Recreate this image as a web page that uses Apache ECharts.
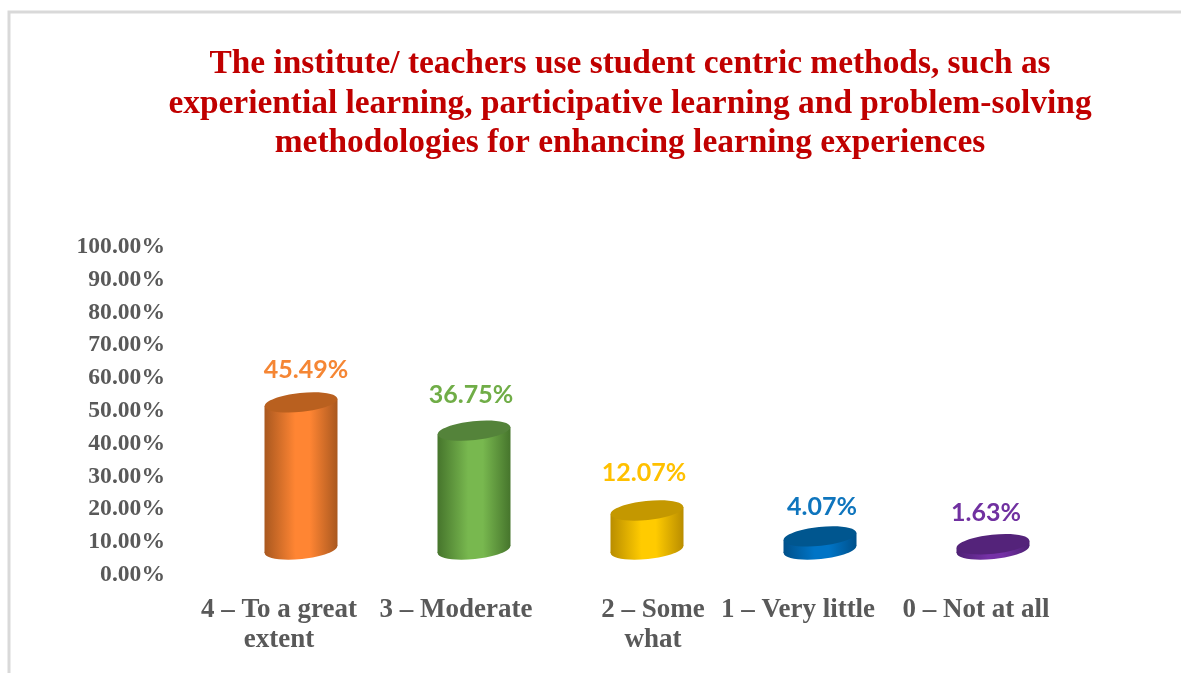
<!DOCTYPE html>
<html><head><meta charset="utf-8">
<style>html,body{margin:0;padding:0;background:#fff}#c{width:1181px;height:673px}</style>
<script src="https://cdn.jsdelivr.net/npm/echarts@6/dist/echarts.min.js"></script>
</head><body><div id="c"></div>
<script>
const titleText = 'The institute/ teachers use student centric methods, such as\nexperiential learning, participative learning and problem-solving\nmethodologies for enhancing learning experiences';
const categories = ['4 – To a great\nextent', '3 – Moderate', '2 – Some\nwhat', '1 – Very little', '0 – Not at all'];
const values = [45.49, 36.75, 12.07, 4.07, 1.63];
const labelColors = ['#F58634', '#70AD47', '#FFC000', '#0F75BD', '#7030A0'];
const bodyLight = ['#FF8533', '#78B84F', '#FFCB00', '#0074C6', '#7531A6'];
const bodyDark = ['#A9581F', '#46752C', '#B98D00', '#00508A', '#4E2174'];
const topColors = ['#B9601F', '#54833A', '#C49800', '#00568F', '#54237A'];
const catShift = [-22, -18, 6, -22, -17];
const valueShiftX = [5, -3, -3, 2, -7];
const valueShiftY = [-32, -36, -38, -29, -31];

const RX = 36.5, RY = 9.5, TILT = 0.105;
const EDGE = (RX * RX - RY * RY) * Math.sin(TILT) * Math.cos(TILT) / RX;

function shiftPad(dx) { return dx < 0 ? [0, -2 * dx, 0, 0] : [0, 0, 0, 2 * dx]; }
function ellipse(cx, cy, fill) {
  return { type: 'ellipse', x: cx, y: cy, rotation: TILT, shape: { cx: 0, cy: 0, rx: RX, ry: RY }, style: { fill: fill } };
}
function renderCylinder(params, api) {
  const i = api.value(0);
  const top = api.coord([i, api.value(1)]);
  const base = api.coord([i, 0]);
  const fill = { type: 'linear', x: 0, y: 0, x2: 1, y2: 0, colorStops: [
    { offset: 0, color: bodyDark[i] }, { offset: 0.42, color: bodyLight[i] },
    { offset: 0.62, color: bodyLight[i] }, { offset: 1, color: bodyDark[i] }] };
  return { type: 'group', children: [
    ellipse(base[0], base[1], fill),
    { type: 'polygon', shape: { points: [
      [top[0] - RX, top[1] + EDGE], [top[0] + RX, top[1] - EDGE],
      [base[0] + RX, base[1] - EDGE], [base[0] - RX, base[1] + EDGE]] }, style: { fill: fill } },
    ellipse(top[0], top[1], topColors[i]),
    { type: 'text', style: {
        x: top[0] + valueShiftX[i], y: top[1] + valueShiftY[i], text: values[i].toFixed(2) + '%',
        fill: labelColors[i], font: 'bold 25px Lato', align: 'center', verticalAlign: 'middle' } }
  ] };
}

const chart = echarts.init(document.getElementById('c'), null, { renderer: 'canvas' });
chart.setOption({
  animation: false,
  backgroundColor: '#fff',
  title: { text: titleText, left: 625, top: 40, textAlign: 'center',
    textStyle: { fontFamily: 'Liberation Serif', fontWeight: 'bold', fontSize: 33.4, lineHeight: 39.5, color: '#C00000' } },
  grid: [
    { left: 214.5, width: 865, top: 247, height: 328 },
    { left: 214.5, width: 865, top: 226, height: 323.5 }
  ],
  xAxis: [
    { type: 'category', gridIndex: 0, axisLine: { show: false }, axisTick: { show: false },
      data: categories.map((c, i) => ({ value: c, textStyle: { padding: shiftPad(catShift[i]) } })),
      axisLabel: { interval: 0, margin: 20, fontFamily: 'Liberation Serif', fontWeight: 'bold', fontSize: 27, lineHeight: 30, color: '#595959' } },
    { type: 'category', gridIndex: 1, data: categories, show: false }
  ],
  yAxis: [
    { type: 'value', gridIndex: 0, min: 0, max: 100, interval: 10, splitLine: { show: false }, axisLine: { show: false }, axisTick: { show: false },
      axisLabel: { margin: 49.5, formatter: v => v.toFixed(2) + '%', fontFamily: 'Liberation Serif', fontWeight: 'bold', fontSize: 23.6, color: '#595959' } },
    { type: 'value', gridIndex: 1, min: 0, max: 100, show: false }
  ],
  series: [{
    type: 'custom', xAxisIndex: 1, yAxisIndex: 1, renderItem: renderCylinder,
    data: values.map((v, i) => [i, v]), encode: { x: 0, y: 1 }, clip: false
  }],
  graphic: [{ type: 'polyline', silent: true,
    shape: { points: [[9, 673], [9, 12], [1181, 12]] },
    style: { fill: 'none', stroke: '#D9D9D9', lineWidth: 3 } }]
});
</script></body></html>
